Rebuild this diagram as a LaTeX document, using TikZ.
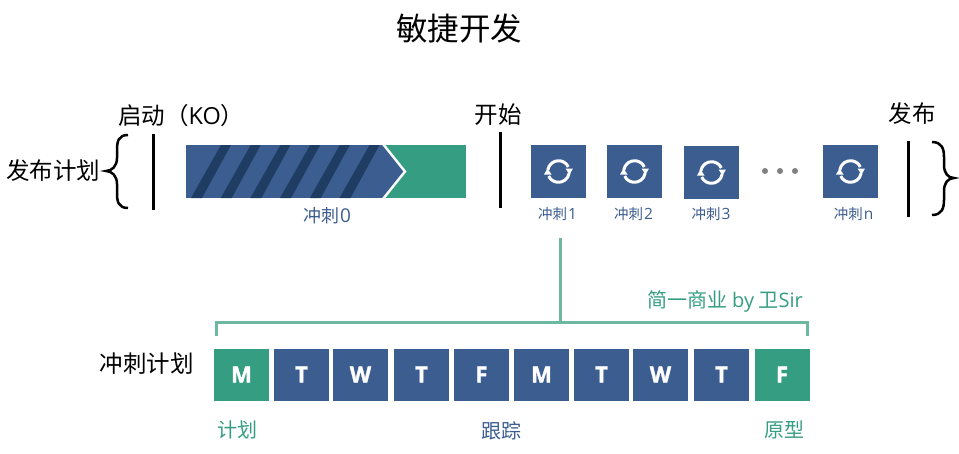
\documentclass[tikz,border=0pt]{standalone}
\usepackage{fontspec}
\setmainfont{Noto Sans CJK SC}
\newfontfamily\latinfont{Open Sans}
\newfontfamily\dayfont[BoldFeatures={FakeBold=1.5}]{Open Sans}
\definecolor{sprintblue}{HTML}{3C5D8F}
\definecolor{sprintgreen}{HTML}{359D82}
\definecolor{stripeblue}{HTML}{1F3D63}
\definecolor{bracketgreen}{HTML}{6DB8A0}
\tikzset{
    textnode/.style={inner sep=0pt, text=black, font=\fontsize{23.5}{23.5}\selectfont},
    bluelabel/.style={inner sep=0pt, text=sprintblue, font=\fontsize{14.5}{14.5}\selectfont},
    greenlabel/.style={inner sep=0pt, text=sprintgreen, font=\fontsize{20}{20}\selectfont},
    daybox/.style={minimum width=55pt, minimum height=52pt, inner sep=0pt, fill=sprintblue, text=white, font=\dayfont\bfseries\fontsize{22}{22}\selectfont},
    sprintbox/.style={minimum width=55pt, minimum height=53pt, inner sep=0pt, fill=sprintblue},
    blackline/.style={line width=3pt, black},
    braceline/.style={line width=2.5pt, black},
    bracketline/.style={line width=3pt, bracketgreen}
}
\begin{document}
\begin{tikzpicture}[x=1pt,y=-1pt]
    \useasboundingbox (0,0) rectangle (959,453);
    \node[textnode, font=\fontsize{31.5}{31.5}\selectfont] (title) at (459,29) {敏捷开发};

    \node[textnode] (plan) at (53,171) {发布计划};
    \node[textnode, anchor=west] (kickoff) at (118,116) {启动（{\latinfont KO}）};
    \node[textnode] (begin) at (498,115) {开始};
    \node[textnode] (release) at (912,114) {发布};

    \draw[braceline] (128,135) .. controls (118,135) and (117,142) .. (117,150) -- (117,158) .. controls (117,166) and (112,171) .. (106,171) .. controls (112,171) and (117,176) .. (117,184) -- (117,193) .. controls (117,201) and (118,208) .. (128,208);
    \draw[braceline] (932,142) .. controls (942,142) and (944,149) .. (944,157) -- (944,165) .. controls (944,173) and (948,178) .. (954,178) .. controls (948,178) and (944,183) .. (944,191) -- (944,200) .. controls (944,208) and (942,215) .. (932,215);

    \coordinate (kotop) at (153,134);
    \coordinate (kobot) at (153,210);
    \coordinate (begintop) at (500,132);
    \coordinate (beginbot) at (500,208);
    \coordinate (reltop) at (908,141);
    \coordinate (relbot) at (908,217);
    \draw[blackline] (kotop) -- (kobot);
    \draw[blackline] (begintop) -- (beginbot);
    \draw[blackline] (reltop) -- (relbot);

    \fill[sprintgreen] (185.5,145) rectangle (466,198);
    \begin{scope}
        \clip (185.5,145) -- (383,145) -- (405,171.5) -- (383,198) -- (185.5,198) -- cycle;
        \fill[sprintblue] (185.5,145) rectangle (466,198);
        \foreach \i in {0,...,5}
            \fill[stripeblue] ({221+29.7*\i},145) -- ({231+29.7*\i},145) -- ({202+29.7*\i},198) -- ({191+29.7*\i},198) -- cycle;
    \end{scope}
    \draw[white, line width=2.4pt] (383,144) -- (405,171.5) -- (383,199);
    \node[bluelabel, font=\fontsize{18}{18}\selectfont] (sprint0) at (327,216) {冲刺\kern1pt{\latinfont\fontsize{19}{19}\selectfont 0}};

    \foreach \name/\x/\y/\lx/\txt in {a/558.5/171.5/557.5/1, b/634.5/171.5/633.5/2, c/711.5/172.5/711/3, d/850.5/171.5/853.5/n} {
        \node[sprintbox] (box\name) at (\x,\y) {};
        \node[bluelabel] (lab\name) at (\lx,214) {冲刺\kern1pt{\latinfont\fontsize{15.5}{15.5}\selectfont\txt}};
        \begin{scope}[shift={(box\name.center)}]
            \draw[white, line width=3pt] (-172:10.8) arc[start angle=-172, end angle=-25, radius=10.8];
            \draw[white, line width=3pt] (8:10.8) arc[start angle=8, end angle=155, radius=10.8];
            \fill[white] (11,3) -- (7,-3) -- (14.5,-3) -- cycle;
            \fill[white] (-11,-3) -- (-7,3) -- (-14.5,3) -- cycle;
        \end{scope}
    }
    \foreach \x [count=\i] in {765,780,795}
        \node[circle, fill=gray, minimum size=6pt, inner sep=0pt] (dot\i) at (\x,171) {};

    \coordinate (bracketl) at (216,336);
    \coordinate (bracketlt) at (216,322);
    \coordinate (bracketm) at (560,322);
    \coordinate (bracketrt) at (807,322);
    \coordinate (bracketr) at (807,336);
    \coordinate (sprinttail) at (560,238);
    \draw[bracketline] (bracketl) -- (bracketlt) -- (bracketrt) -- (bracketr);
    \draw[bracketline] (sprinttail) -- (bracketm);
    \node[greenlabel, anchor=east] (credit) at (803,301) {简一商业 {\latinfont by} 卫{\latinfont Sir}};

    \node[textnode] (sprintplan) at (146.5,364) {冲刺计划};
    \foreach \d/\x [count=\i] in {M/241.5,T/301.5,W/360.5,T/421.5,F/481.5,M/541.5,T/601.5,W/660.5,T/721.5,F/782}
        \node[daybox] (day\i) at (\x,374.5) {\d};
    \node[daybox, fill=sprintgreen] (day1) at (241.5,374.5) {M};
    \node[daybox, fill=sprintgreen] (day10) at (782,374.5) {F};

    \node[greenlabel] (planlab) at (237.5,429.5) {计划};
    \node[bluelabel, font=\fontsize{20}{20}\selectfont] (tracklab) at (501.5,431) {跟踪};
    \node[greenlabel] (protolab) at (784,429.5) {原型};
\end{tikzpicture}
\end{document}
